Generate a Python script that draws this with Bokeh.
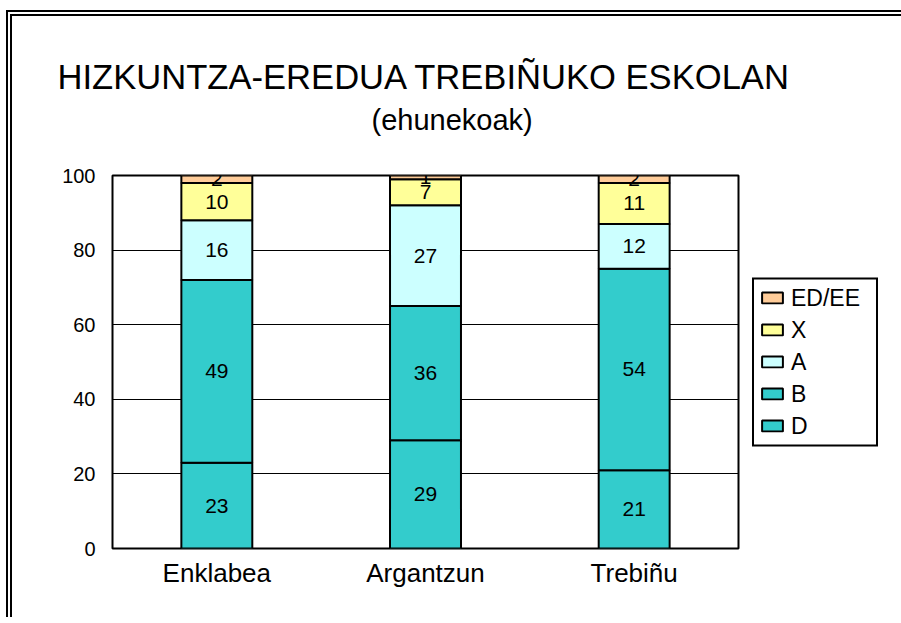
from bokeh.plotting import figure
from bokeh.models import (ColumnDataSource, FactorRange, Range1d, Legend, LegendItem,
                          LabelSet, Title, SingleIntervalTicker)
from bokeh.core.properties import value
from bokeh.embed import file_html
from bokeh.resources import INLINE

categories = ["Enklabea", "Argantzun", "Trebiñu"]
series = ["D", "B", "A", "X", "ED/EE"]
D = [23, 29, 21]
B = [49, 36, 54]
A = [16, 27, 12]
X = [10, 7, 11]
EDEE = [2, 1, 2]
colors = ["#33CCCC", "#33CCCC", "#CCFFFF", "#FFFF99", "#FFCC99"]

data = {"cat": categories, "D": D, "B": B, "A": A, "X": X, "ED/EE": EDEE}
src = ColumnDataSource(data)

FONT = "Liberation Sans"

p = figure(x_range=FactorRange(*categories), y_range=Range1d(0, 100),
           frame_width=626, frame_height=373,
           output_backend="svg", toolbar_location=None,
           min_border_left=100, min_border_right=163, min_border_top=159,
           min_border_bottom=69)
p.styles = {"border-left": "6px double black", "border-top": "6px double black",
            "margin-left": "6px", "margin-top": "10px"}
p.background_fill_color = "white"
p.border_fill_color = "white"
p.outline_line_color = "black"
p.outline_line_width = 2

rs = p.vbar_stack(series, x="cat", width=0.34, source=src, color=colors,
                  line_color="black", line_width=2)

# value labels at segment midpoints
lx, ly, lt = [], [], []
for i, c in enumerate(categories):
    base = 0
    for s in series:
        v = data[s][i]
        lx.append(c)
        ly.append(base + v / 2)
        lt.append(str(v))
        base += v
p.add_layout(LabelSet(x="x", y="y", text="t", source=ColumnDataSource(dict(x=lx, y=ly, t=lt)),
                      text_align="center", text_baseline="middle",
                      text_font=value(FONT), text_font_size="21px", text_color="black"))

p.xgrid.grid_line_color = None
p.ygrid.grid_line_color = "black"
p.ygrid.grid_line_width = 1
p.yaxis.ticker = SingleIntervalTicker(interval=20)
for ax in (p.xaxis[0], p.yaxis[0]):
    ax.axis_line_color = None
    ax.major_tick_line_color = None
    ax.minor_tick_line_color = None
    ax.major_label_text_font = FONT
    ax.major_label_text_color = "black"
p.yaxis.major_label_text_font_size = "20px"
p.yaxis.major_label_standoff = 11
p.xaxis.major_label_text_font_size = "26px"
p.xaxis.major_label_standoff = 3

items = [LegendItem(label=s, renderers=[r]) for s, r in zip(series, rs)][::-1]
leg = Legend(items=items, location="left", margin=14, padding=5,
             spacing=5, label_height=26, label_width=80, glyph_width=26, glyph_height=14,
             label_standoff=6, label_text_font=FONT, label_text_font_size="23px",
             label_text_color="black",
             border_line_color="black", border_line_width=2, border_line_alpha=1,
             background_fill_color="white", background_fill_alpha=1)
p.add_layout(leg, "right")

# spacer next to the plot, then subtitle, then main title
p.add_layout(Title(text=" ", standoff=37, text_font_size="1px"), "above")
p.add_layout(Title(text="(ehunekoak)", align="left", offset=259, standoff=0,
                   text_font=FONT, text_font_size="29px", text_font_style="normal",
                   text_color="black"), "above")
p.add_layout(Title(text="HIZKUNTZA-EREDUA TREBIÑUKO ESKOLAN", align="left", offset=-55,
                   standoff=12, text_font=FONT, text_font_size="34.6px",
                   text_font_style="normal", text_color="black"), "above")

open("out.html", "w").write(file_html(p, INLINE))
